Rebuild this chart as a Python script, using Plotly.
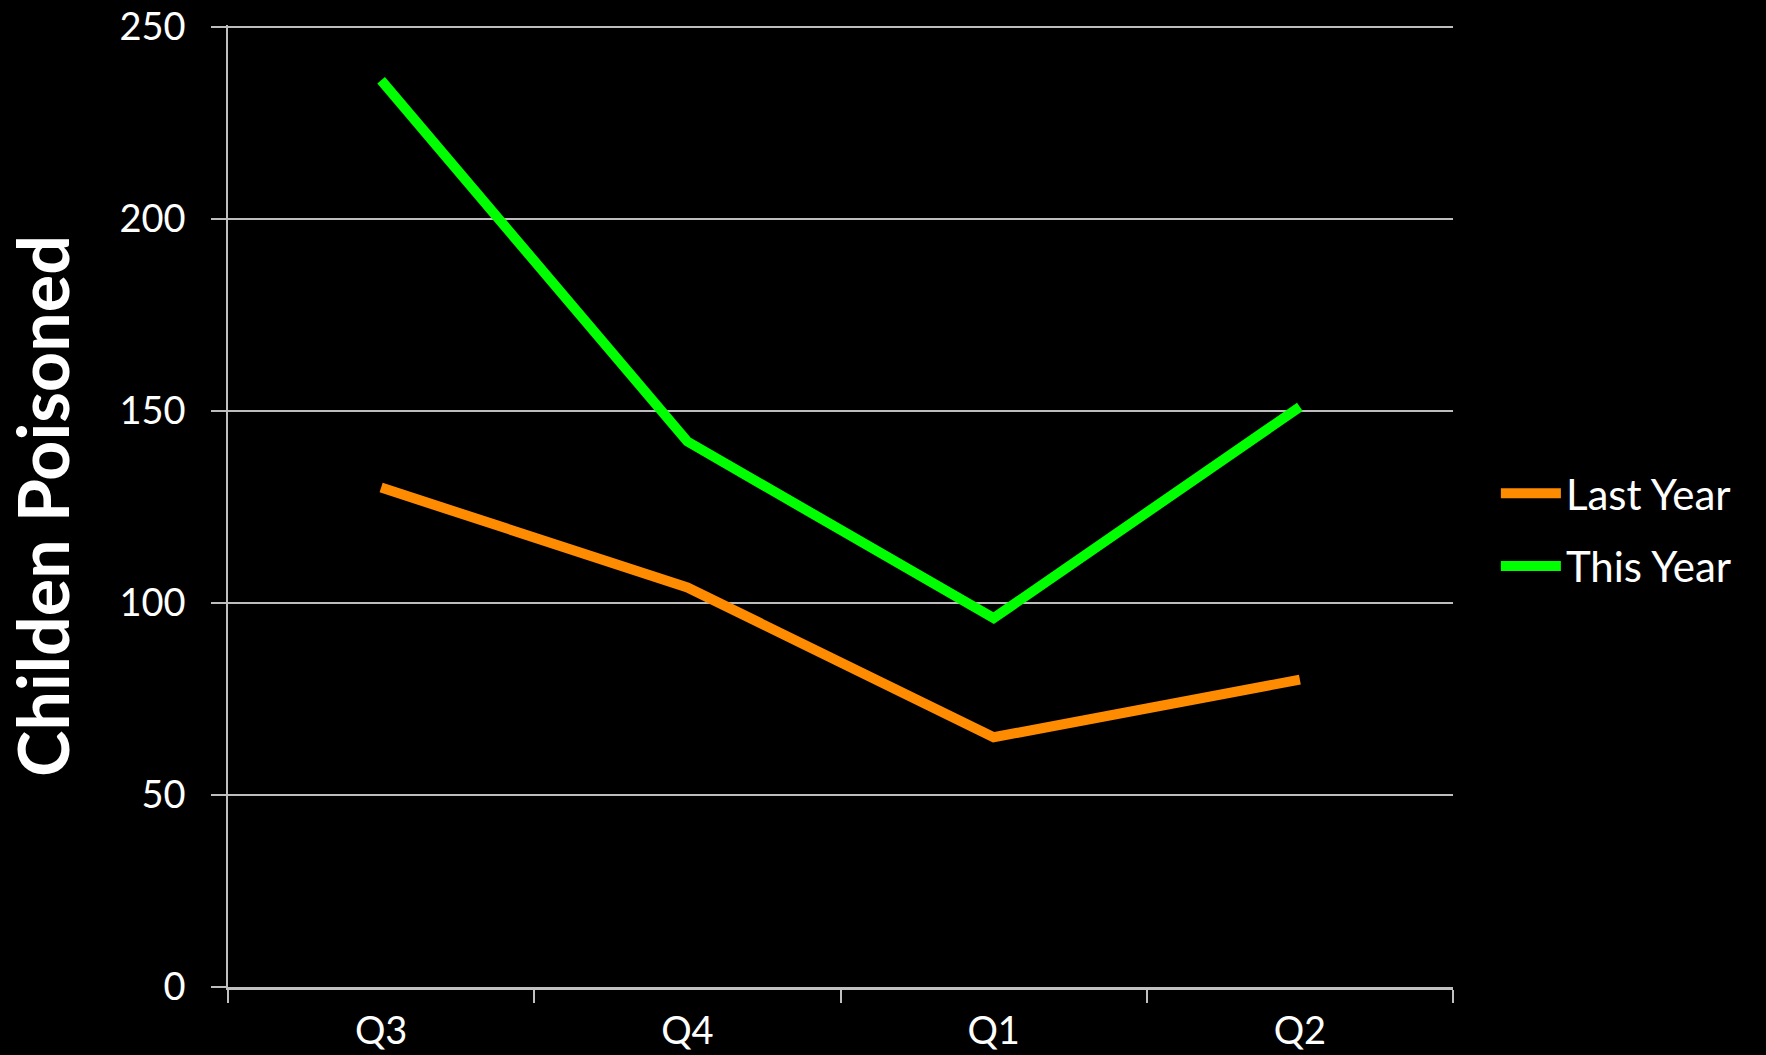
import plotly.graph_objects as go

quarters = ["Q3", "Q4", "Q1", "Q2"]
last_year = [130, 104, 65, 80]
this_year = [236, 142, 96, 151]
y_ticks = [0, 50, 100, 150, 200, 250]

FONT = "Lato"
fig = go.Figure()
fig.add_trace(go.Scatter(x=quarters, y=last_year, mode="lines", name="Last Year",
                         legendgroup="a",
                         line=dict(color="#ff8c00", width=10)))
fig.add_trace(go.Scatter(x=quarters, y=this_year, mode="lines", name="This Year",
                         legendgroup="b",
                         line=dict(color="#00ff00", width=10)))

fig.update_layout(
    width=1766, height=1055,
    paper_bgcolor="black", plot_bgcolor="black",
    margin=dict(l=228, r=313, t=25, b=68),
    font=dict(family=FONT, color="white", size=40),
    showlegend=True,
    legend=dict(x=1.035, y=0.475, xanchor="left", yanchor="middle",
                font=dict(size=42, family=FONT, color="white"),
                bgcolor="rgba(0,0,0,0)", itemwidth=60, tracegroupgap=15),
    xaxis=dict(type="category", range=[-0.5, 3.5], showgrid=False, automargin=False,
               showline=True, linecolor="#c0c0c0", linewidth=3,
               ticks="outside", tickson="boundaries", ticklen=13,
               tickcolor="#c0c0c0", tickwidth=1.5,
               tickfont=dict(size=38, family=FONT, color="white"),
               ticklabelstandoff=8),
    yaxis=dict(range=[0, 250.4], tickvals=y_ticks, showgrid=True, automargin=False,
               gridcolor="#bdbdbd", gridwidth=1.5, zeroline=False,
               showline=True, linecolor="#c0c0c0", linewidth=1.5,
               ticks="outside", ticklen=15, tickcolor="#bdbdbd", tickwidth=1.5,
               tickfont=dict(size=38, family=FONT, color="white"),
               ticklabelstandoff=18, ticklabeloverflow="allow",
               title=dict(text="<b>Childen Poisoned</b>", font=dict(size=70, family=FONT, color="white"),
                          standoff=36)),
)
fig.write_html("out.html")
